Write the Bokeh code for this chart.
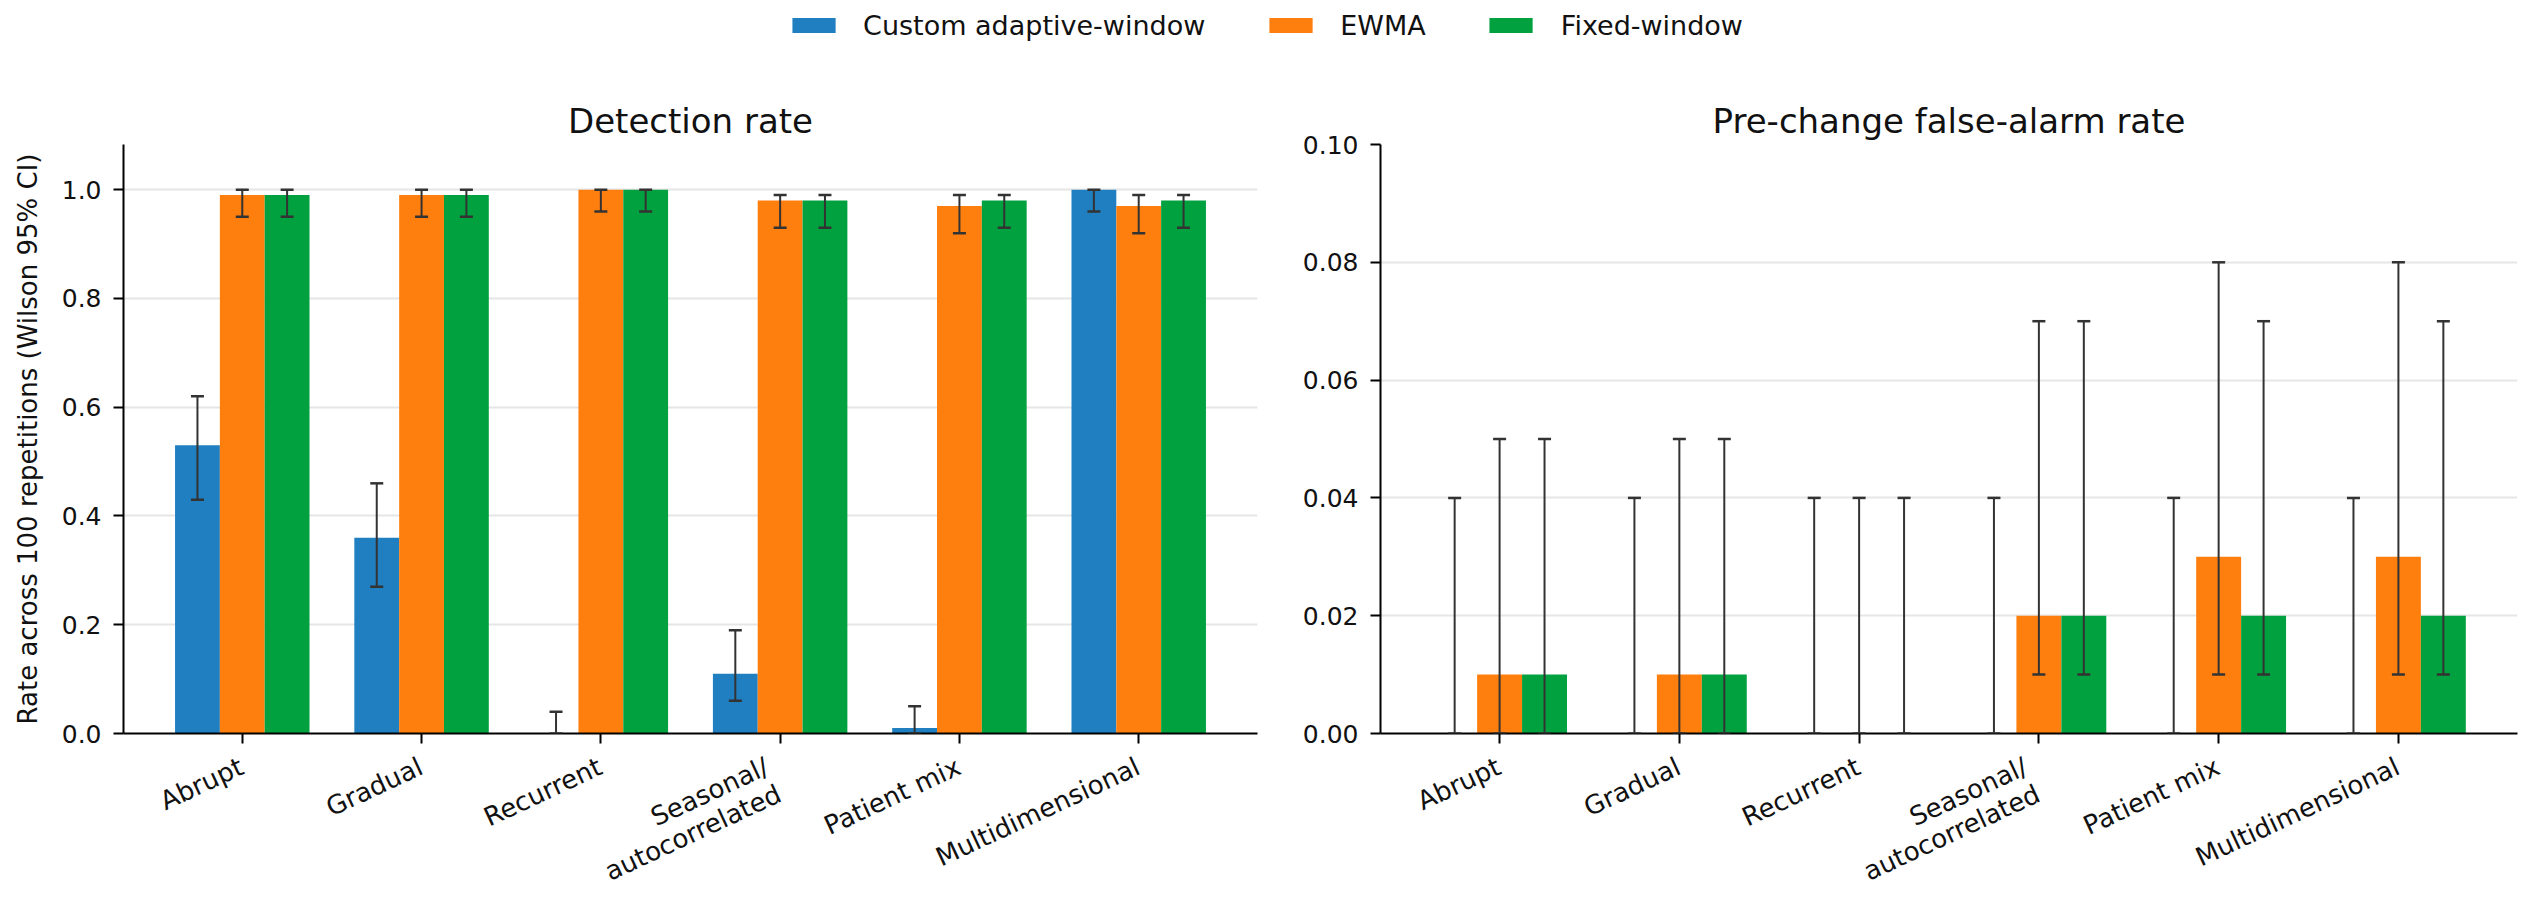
import math
from bokeh.plotting import figure
from bokeh.models import (ColumnDataSource, Range1d, FixedTicker, NumeralTickFormatter,
                          Whisker, TeeHead, Legend, LegendItem)
from bokeh.core.properties import value
from bokeh.transform import dodge
from bokeh.layouts import column, row
from bokeh.embed import file_html
from bokeh.resources import INLINE

# ---------------- data ----------------
categories = ["Abrupt", "Gradual", "Recurrent", "Seasonal/\nautocorrelated", "Patient mix", "Multidimensional"]
methods = ["Custom adaptive-window", "EWMA", "Fixed-window"]
colors = ["#1f7fc0", "#ff7f0e", "#00a13e"]

det_custom = [0.53, 0.36, 0.00, 0.11, 0.01, 1.00]
det_custom_lo = [0.43, 0.27, 0.00, 0.06, 0.00, 0.96]
det_custom_hi = [0.62, 0.46, 0.04, 0.19, 0.05, 1.00]
det_ewma = [0.99, 0.99, 1.00, 0.98, 0.97, 0.97]
det_ewma_lo = [0.95, 0.95, 0.96, 0.93, 0.92, 0.92]
det_ewma_hi = [1.00, 1.00, 1.00, 0.99, 0.99, 0.99]
det_fixed = [0.99, 0.99, 1.00, 0.98, 0.98, 0.98]
det_fixed_lo = [0.95, 0.95, 0.96, 0.93, 0.93, 0.93]
det_fixed_hi = [1.00, 1.00, 1.00, 0.99, 0.99, 0.99]

fa_custom = [0.00, 0.00, 0.00, 0.00, 0.00, 0.00]
fa_custom_lo = [0.00, 0.00, 0.00, 0.00, 0.00, 0.00]
fa_custom_hi = [0.04, 0.04, 0.04, 0.04, 0.04, 0.04]
fa_ewma = [0.01, 0.01, 0.00, 0.02, 0.03, 0.03]
fa_ewma_lo = [0.00, 0.00, 0.00, 0.01, 0.01, 0.01]
fa_ewma_hi = [0.05, 0.05, 0.04, 0.07, 0.08, 0.08]
fa_fixed = [0.01, 0.01, 0.00, 0.02, 0.02, 0.02]
fa_fixed_lo = [0.00, 0.00, 0.00, 0.01, 0.01, 0.01]
fa_fixed_hi = [0.05, 0.05, 0.04, 0.07, 0.07, 0.07]

left_ticks = [0.0, 0.2, 0.4, 0.6, 0.8, 1.0]
right_ticks = [0.00, 0.02, 0.04, 0.06, 0.08, 0.10]

FONT = "DejaVu Sans"
TXT = "#111111"
ERR = "#333333"
idx = list(range(len(categories)))
offsets = [-0.25, 0.0, 0.25]
BAR_W = 0.25

# tick-label geometry (rotation 25 deg, right-aligned lines, hanging from the tick)
ROT = math.radians(25)
LINE_H = 30          # px between label lines
BASE_DX = -7         # px shift of the label's top-right corner from the tick


def label_rows():
    xs, tops, names, dxs, dys = [], [], [], [], []
    for i, cat in zip(idx, categories):
        lines = cat.split("\n")
        n = len(lines)
        for k, line in enumerate(lines):
            xs.append(i)
            tops.append(1)
            names.append(line)
            dxs.append(BASE_DX - (n - 1 - k) * LINE_H * math.sin(ROT))
            dys.append(k * LINE_H * math.cos(ROT))
    return dict(idx=xs, top=tops, name=names, dx=dxs, dy=dys)


def make_panel(title, ymax, ticks, fmt, series, width, mbl, mbr, ylabel=None):
    p = figure(width=width, height=699, x_range=Range1d(-0.6625, 5.6625),
               y_range=Range1d(0, ymax), output_backend="svg", toolbar_location=None,
               min_border_left=mbl, min_border_right=mbr, min_border_top=94,
               min_border_bottom=16, outline_line_color=None, title=title,
               background_fill_color="white", border_fill_color="white")
    p.title.text_font = FONT
    p.title.text_font_size = "34px"
    p.title.text_font_style = "normal"
    p.title.text_color = TXT
    p.title.align = "center"
    p.title.standoff = 8

    for (vals, lo, hi), off, col in zip(series, offsets, colors):
        src = ColumnDataSource(dict(idx=idx, val=vals, lo=lo, hi=hi))
        p.vbar(x=dodge("idx", off, range=p.x_range), top="val", bottom=0, width=BAR_W,
               source=src, fill_color=col, line_color=None)
        w = Whisker(base=dodge("idx", off, range=p.x_range), lower="lo", upper="hi",
                    source=src, line_color=ERR, line_width=2, level="overlay",
                    upper_head=TeeHead(size=13, line_color=ERR, line_width=2.5),
                    lower_head=TeeHead(size=13, line_color=ERR, line_width=2.5))
        p.add_layout(w)

    p.xgrid.visible = False
    p.ygrid.ticker = FixedTicker(ticks=ticks)
    p.ygrid.grid_line_color = "#e6e6e6"
    p.ygrid.grid_line_width = 2

    # bottom spine with unlabeled tick marks at each category
    xa = p.xaxis[0]
    xa.ticker = FixedTicker(ticks=[], minor_ticks=idx)
    xa.axis_line_width = 2
    xa.axis_line_color = "black"
    xa.minor_tick_line_color = "black"
    xa.minor_tick_line_width = 2
    xa.minor_tick_out = 10
    xa.minor_tick_in = 0
    xa.major_tick_line_color = None

    ya = p.yaxis[0]
    ya.ticker = FixedTicker(ticks=ticks)
    ya.formatter = NumeralTickFormatter(format=fmt)
    ya.major_label_text_font = FONT
    ya.major_label_text_font_size = "25px"
    ya.major_label_text_color = TXT
    ya.major_label_standoff = 12
    ya.axis_line_width = 2
    ya.axis_line_color = "black"
    ya.major_tick_line_width = 2
    ya.major_tick_out = 10
    ya.major_tick_in = 0
    ya.minor_tick_line_color = None
    if ylabel:
        ya.axis_label = ylabel
        ya.axis_label_text_font = FONT
        ya.axis_label_text_font_size = "26px"
        ya.axis_label_text_font_style = "normal"
        ya.axis_label_text_color = TXT
        ya.axis_label_standoff = 16

    # strip under the plot holding the rotated category labels (shares the x scale)
    s = figure(width=width, height=141, x_range=p.x_range, y_range=Range1d(0, 1),
               output_backend="svg", toolbar_location=None, min_border_left=mbl,
               min_border_right=mbr, min_border_top=2, min_border_bottom=0,
               x_axis_location=None, y_axis_location=None, outline_line_color=None,
               background_fill_color="white", border_fill_color="white")
    s.grid.visible = False
    lab_src = ColumnDataSource(label_rows())
    s.text(x="idx", y="top", text="name", source=lab_src, angle=ROT,
           text_align="right", text_baseline="top", x_offset="dx", y_offset="dy",
           text_font=value(FONT), text_font_size=value("26px"), text_color=TXT)
    return column(p, s, spacing=0)


left = make_panel("Detection rate", 1.083, left_ticks, "0.0",
                  [(det_custom, det_custom_lo, det_custom_hi),
                   (det_ewma, det_ewma_lo, det_ewma_hi),
                   (det_fixed, det_fixed_lo, det_fixed_hi)],
                  width=1277, mbl=123, mbr=20,
                  ylabel="Rate across 100 repetitions (Wilson 95% CI)")
right = make_panel("Pre-change false-alarm rate", 0.10, right_ticks, "0.00",
                   [(fa_custom, fa_custom_lo, fa_custom_hi),
                    (fa_ewma, fa_ewma_lo, fa_ewma_hi),
                    (fa_fixed, fa_fixed_lo, fa_fixed_hi)],
                   width=1252, mbl=103, mbr=12)

# ---------------- legend strip ----------------
lg = figure(width=2529, height=50, output_backend="svg", toolbar_location=None,
            x_range=Range1d(0, 1), y_range=Range1d(0, 1), outline_line_color=None,
            min_border=0, border_fill_color="white",
            x_axis_location=None, y_axis_location=None)
lg.grid.visible = False
items = []
for m, col in zip(methods, colors):
    r = lg.vbar(x=[5.0], top=[5.0], bottom=[4.0], width=0.1, fill_color=col, line_color=None)
    items.append(LegendItem(label=m, renderers=[r]))
leg = Legend(items=items, orientation="horizontal", location="center",
             label_text_font=FONT, label_text_font_size="27px", label_text_color=TXT,
             glyph_width=54, glyph_height=19, label_standoff=23, spacing=58,
             border_line_color=None, background_fill_alpha=0, padding=0, margin=0)
lg.add_layout(leg, "center")

layout = column(lg, row(left, right, spacing=0), spacing=0)
open("out.html", "w").write(file_html(layout, INLINE))
